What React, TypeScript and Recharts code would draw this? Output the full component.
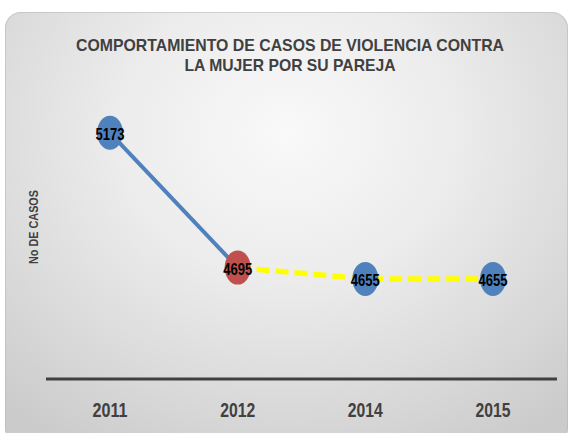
import React from 'react';
import { LineChart, Line, XAxis, YAxis, Customized } from 'recharts';

const years = ['2011', '2012', '2014', '2015'];
const solidSeries: (number | null)[] = [5173, 4695, null, null];
const dashedSeries: (number | null)[] = [null, 4695, 4655, 4655];
const pointColors = ['#4F81BD', '#C0504D', '#4F81BD', '#4F81BD'];
const titleLines = ['COMPORTAMIENTO DE CASOS DE VIOLENCIA CONTRA', 'LA MUJER POR SU PAREJA'];
const yAxisTitle = 'No DE CASOS';
const yDomain = [4300, 5300];

const data = years.map((year, i) => ({ year, solid: solidSeries[i], dashed: dashedSeries[i] }));

const NARROW = "'Liberation Sans Narrow', 'Arial Narrow', 'Liberation Sans', Arial, sans-serif";

const makeDot = (allowed: number[]) => (props: any) => {
  const { cx, cy, index, value } = props;
  if (cx == null || cy == null || value == null || !allowed.includes(index)) {
    return <g key={`d-${index}`} />;
  }
  return (
    <g key={`d-${index}`}>
      <ellipse cx={cx} cy={cy} rx={13} ry={17} fill={pointColors[index]} />
      <text
        x={cx}
        y={cy + 2}
        textAnchor="middle"
        dominantBaseline="central"
        fontFamily={NARROW}
        fontWeight="bold"
        fontSize={16}
        fill="#000000"
        textLength={29}
        lengthAdjust="spacingAndGlyphs"
      >
        {value}
      </text>
    </g>
  );
};

const Tick = (props: any) => {
  const { x, y, payload } = props;
  return (
    <text
      x={x}
      y={y + 37.5}
      textAnchor="middle"
      fontFamily={NARROW}
      fontWeight="bold"
      fontSize={20}
      fill="#404040"
      textLength={35}
      lengthAdjust="spacingAndGlyphs"
    >
      {payload.value}
    </text>
  );
};

const Decorations = () => (
  <g>
    <text
      x={290}
      y={51}
      textAnchor="middle"
      fontFamily={NARROW}
      fontWeight="bold"
      fontSize={17}
      fill="#404040"
      textLength={428}
      lengthAdjust="spacingAndGlyphs"
    >
      {titleLines[0]}
    </text>
    <text
      x={290}
      y={71}
      textAnchor="middle"
      fontFamily={NARROW}
      fontWeight="bold"
      fontSize={17}
      fill="#404040"
      textLength={211}
      lengthAdjust="spacingAndGlyphs"
    >
      {titleLines[1]}
    </text>
    <text
      x={0}
      y={0}
      transform="translate(38, 227) rotate(-90)"
      textAnchor="middle"
      fontFamily="'Liberation Sans', Arial, sans-serif"
      fontWeight="bold"
      fontSize={12.5}
      fill="#404040"
      textLength={74}
      lengthAdjust="spacingAndGlyphs"
    >
      {yAxisTitle}
    </text>
  </g>
);

export default function App() {
  return (
    <div style={{ position: 'absolute', left: 0, top: 0, width: 571, height: 433, background: '#ffffff', overflow: 'hidden' }}>
      <div
        style={{
          position: 'absolute',
          left: 5,
          top: 12,
          width: 563,
          height: 432,
          borderRadius: 16,
          background:
            'radial-gradient(ellipse 75% 85% at 50% 28%, #f9f9f9 0%, #ececec 40%, #d9d9d9 75%, #cbcbcb 100%)',
          boxShadow: 'inset 0 0 0 1px rgba(180,180,180,0.5)',
        }}
      />
      <div style={{ position: 'absolute', left: 0, top: 0 }}>
        <LineChart width={571} height={433} data={data} margin={{ top: 97, right: 14, bottom: 0, left: 46 }}>
          <XAxis
            dataKey="year"
            height={54}
            padding={{ left: 64, right: 64 }}
            axisLine={{ stroke: '#404040', strokeWidth: 3 }}
            tickLine={false}
            tickSize={0}
            tickMargin={0}
            tick={<Tick />}
            interval={0}
          />
          <YAxis hide type="number" domain={yDomain} allowDataOverflow />
          <Customized component={Decorations} />
          <Line
            dataKey="solid"
            stroke="#4F81BD"
            strokeWidth={4}
            dot={makeDot([0])}
            activeDot={false}
            connectNulls={false}
            isAnimationActive={false}
          />
          <Line
            dataKey="dashed"
            stroke="#FFFF00"
            strokeWidth={5.5}
            strokeDasharray="13 6"
            dot={makeDot([1, 2, 3])}
            activeDot={false}
            connectNulls={false}
            isAnimationActive={false}
          />
        </LineChart>
      </div>
    </div>
  );
}
